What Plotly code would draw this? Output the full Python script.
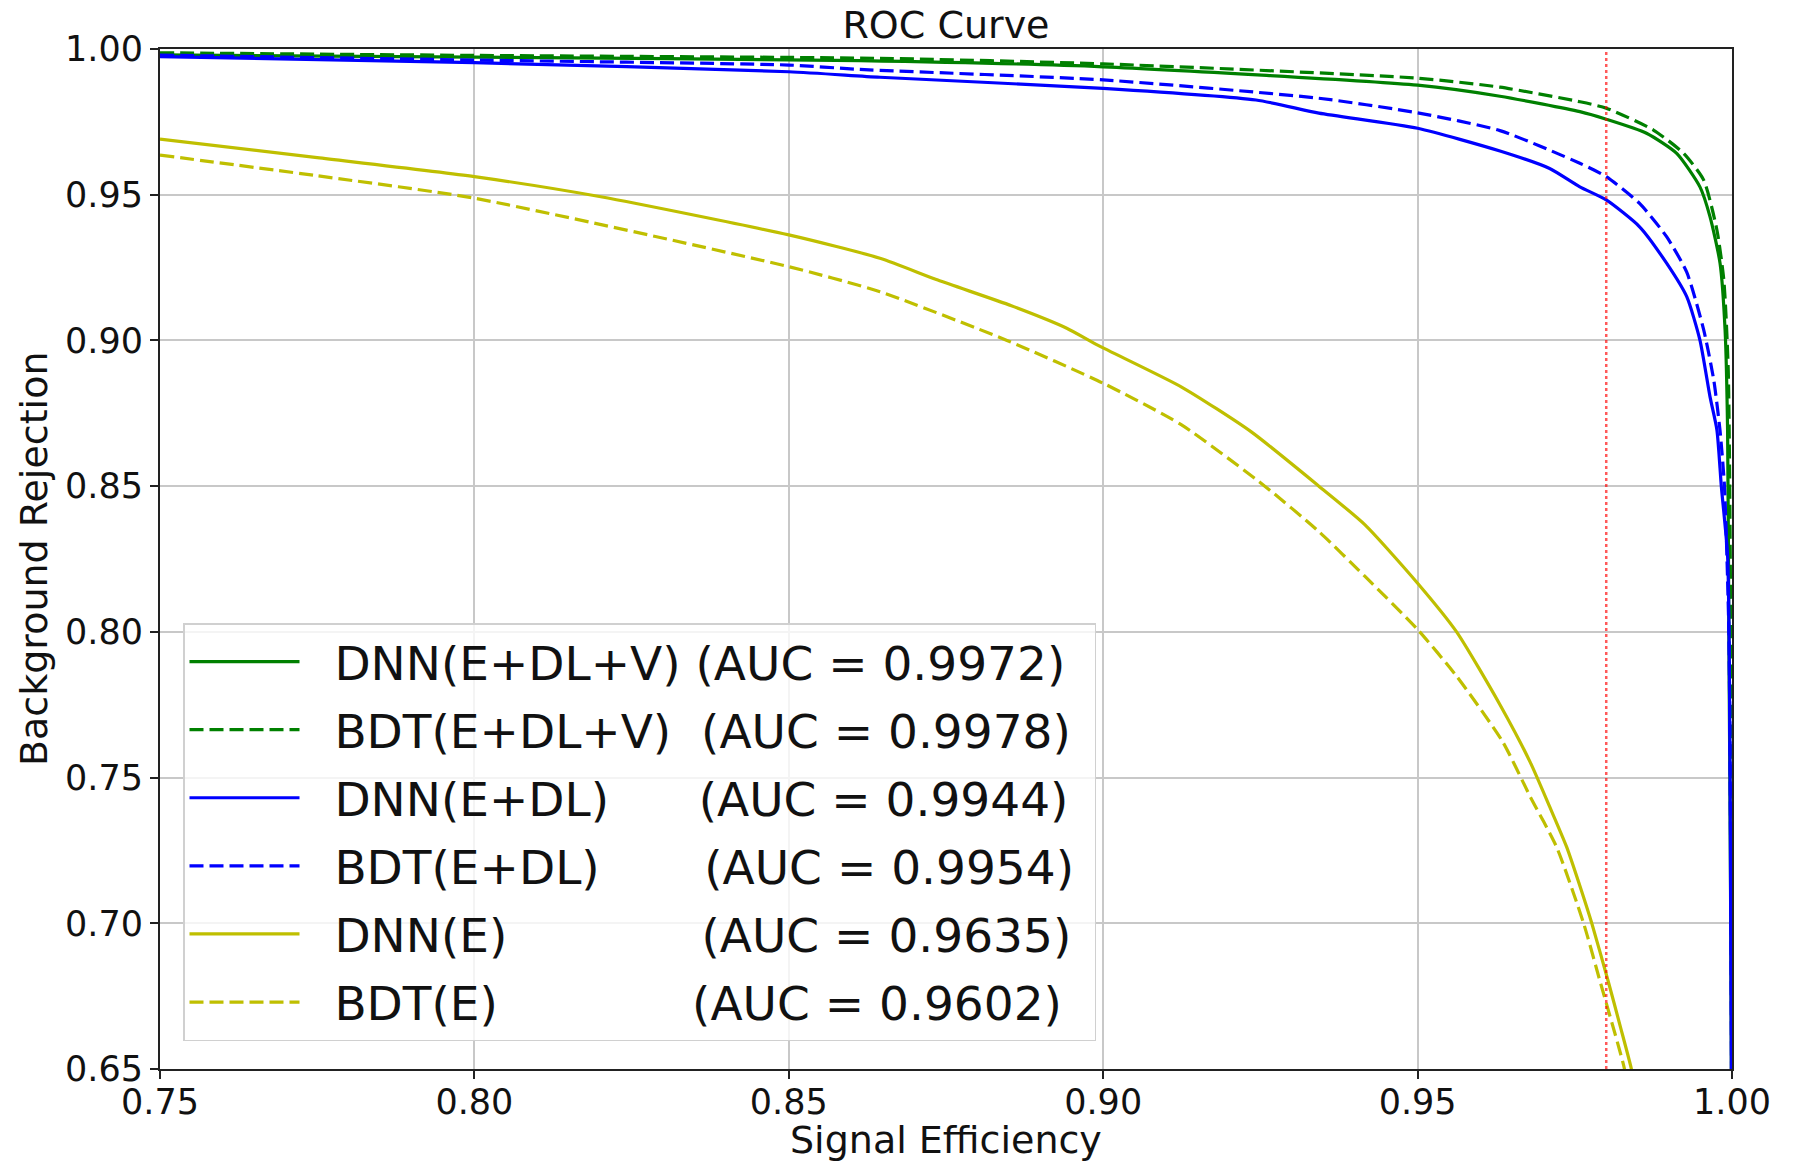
import plotly.graph_objects as go

# ---------------- data ----------------
dnn_edlv_x = [0.75, 0.80, 0.8613, 0.90, 0.95, 0.9631, 0.9758, 0.98, 0.9864, 0.9912,
              0.9949, 0.9965, 0.9981, 0.9989, 0.9993, 0.9995, 0.9998, 1.0]
dnn_edlv_y = [0.9980, 0.9972, 0.9960, 0.9939, 0.9876, 0.9838, 0.9785, 0.9759, 0.9711, 0.9642,
              0.9527, 0.9425, 0.9265, 0.9036, 0.8690, 0.80, 0.70, 0.60]

bdt_edlv_x = [0.75, 0.80, 0.8645, 0.90, 0.95, 0.9631, 0.9758, 0.98, 0.9875, 0.9923,
              0.9955, 0.9976, 0.9987, 0.9994, 0.9998, 1.0]
bdt_edlv_y = [0.9987, 0.9978, 0.9968, 0.9949, 0.9900, 0.9869, 0.9819, 0.9797, 0.9722, 0.9642,
              0.9550, 0.9379, 0.9207, 0.8900, 0.80, 0.60]

dnn_edl_x = [0.75, 0.80, 0.85, 0.8645, 0.90, 0.9243, 0.9343, 0.95, 0.9631, 0.9710, 0.9758,
             0.98, 0.9853, 0.9896, 0.9928, 0.9949, 0.9965, 0.9976, 0.9983, 0.9993, 0.9997, 1.0]
dnn_edl_y = [0.9974, 0.9953, 0.9922, 0.9903, 0.9865, 0.9825, 0.9780, 0.9728, 0.9650, 0.9590, 0.9527,
             0.9482, 0.9390, 0.9265, 0.9150, 0.9001, 0.8807, 0.8693, 0.85, 0.826, 0.75, 0.60]

bdt_edl_x = [0.75, 0.80, 0.85, 0.8613, 0.90, 0.9343, 0.95, 0.9631, 0.9758, 0.98, 0.9853,
             0.9896, 0.9928, 0.9955, 0.9971, 0.9981, 0.9988, 0.9995, 0.9998, 1.0]
bdt_edl_y = [0.9979, 0.9962, 0.9945, 0.9930, 0.9894, 0.9831, 0.9781, 0.9720, 0.9608, 0.9562, 0.9470,
             0.9356, 0.9234, 0.9036, 0.8864, 0.8690, 0.85, 0.80, 0.72, 0.60]

dnn_e_x = [0.75, 0.775, 0.80, 0.8201, 0.85, 0.8645, 0.8737, 0.8854, 0.8942, 0.8992, 0.9124,
           0.9235, 0.9343, 0.9416, 0.95, 0.9562, 0.9631, 0.9679, 0.9710, 0.9737, 0.9761,
           0.9777, 0.9803, 0.9822, 0.9840, 0.9848]
dnn_e_y = [0.9691, 0.9627, 0.9562, 0.9493, 0.9362, 0.9282, 0.9207, 0.9119, 0.9042, 0.8983, 0.8841,
           0.8687, 0.85, 0.8368, 0.8167, 0.80, 0.7750, 0.7553, 0.7400, 0.7262, 0.7109,
           0.70, 0.6802, 0.6649, 0.65, 0.64]

bdt_e_x = [0.75, 0.775, 0.80, 0.85, 0.8645, 0.8847, 0.90, 0.9124, 0.9257, 0.9343, 0.9416,
           0.95, 0.9562, 0.9635, 0.9679, 0.9721, 0.9764, 0.9790, 0.9829, 0.9836]
bdt_e_y = [0.9636, 0.9565, 0.9488, 0.9253, 0.9167, 0.90, 0.8853, 0.8711, 0.85, 0.8344, 0.8191,
           0.8008, 0.7848, 0.7624, 0.7435, 0.7262, 0.70, 0.6802, 0.65, 0.64]

series_names = ["DNN(E+DL+V)", "BDT(E+DL+V)", "DNN(E+DL)", "BDT(E+DL)", "DNN(E)", "BDT(E)"]
series_auc = [0.9972, 0.9978, 0.9944, 0.9954, 0.9635, 0.9602]
series_pad = [1, 2, 6, 7, 13, 13]   # spaces used in the legend labels for alignment
series_colors = ["#008000", "#008000", "#0000ff", "#0000ff", "#bfbf00", "#bfbf00"]
series_dash = ["solid", "14px,6px", "solid", "14px,6px", "solid", "14px,6px"]
series_x = [dnn_edlv_x, bdt_edlv_x, dnn_edl_x, bdt_edl_x, dnn_e_x, bdt_e_x]
series_y = [dnn_edlv_y, bdt_edlv_y, dnn_edl_y, bdt_edl_y, dnn_e_y, bdt_e_y]

SIG_EFF_CUT = 0.98
x_range = [0.75, 1.00]
y_range = [0.65, 1.00]

FONT = "DejaVu Sans"

# page body has an 8px margin -> figure is drawn 8px smaller and offset
W, H = 1785, 1154
ML, MT, MR, MB = 152, 41, 61, 93
PW, PH = W - ML - MR, H - MT - MB

# ---------------- figure ----------------
fig = go.Figure()

for i, (name, auc) in enumerate(zip(series_names, series_auc)):
    label = ("\u00a0\u00a0" + name + "\u00a0" * series_pad[i]
             + f"(AUC = {auc:.4f})" + "\u00a0")
    fig.add_trace(go.Scatter(
        x=series_x[i], y=series_y[i], mode="lines", name=label,
        legendgroup=f"g{i}",
        line=dict(color=series_colors[i], width=3.2, dash=series_dash[i],
                  shape="spline", smoothing=0.6),
    ))

fig.add_trace(go.Scatter(
    x=[SIG_EFF_CUT, SIG_EFF_CUT], y=y_range, mode="lines", showlegend=False,
    line=dict(color="rgba(255,0,0,0.65)", width=2.5, dash="3px,3px"),
))

axis_common = dict(
    showline=True, linecolor="#222222", linewidth=2, mirror=True,
    showgrid=True, gridcolor="#c8c8c8", gridwidth=1.5,
    ticks="outside", ticklen=8, tickwidth=2, tickcolor="#222222",
    tickfont=dict(family=FONT, size=35, color="#111111"),
    dtick=0.05, tickformat=".2f", zeroline=False,
)

fig.update_layout(
    width=W, height=H,
    margin=dict(l=ML, r=MR, t=MT, b=MB),
    paper_bgcolor="white", plot_bgcolor="white",
    font=dict(family=FONT, color="#111111"),
    title=dict(text="ROC Curve", x=(ML + PW / 2) / W, xanchor="center",
               y=1 - 17 / H, yanchor="middle",
               font=dict(family=FONT, size=38, color="#111111")),
    xaxis=dict(range=x_range, tick0=0.75, ticklabelstandoff=-7, **axis_common),
    yaxis=dict(range=y_range, tick0=0.65, **axis_common),
    legend=dict(
        x=23 / PW, y=28 / PH, xanchor="left", yanchor="bottom",
        bgcolor="rgba(255,255,255,0.8)", bordercolor="#d0d0d0", borderwidth=1.5,
        font=dict(family=FONT, size=47, color="#111111"),
        tracegroupgap=4, itemwidth=110,
    ),
    showlegend=True,
    annotations=[
        dict(text="Signal Efficiency", xref="paper", yref="paper", x=0.5,
             y=-71 / PH, xanchor="center", yanchor="middle",
             showarrow=False, font=dict(family=FONT, size=38, color="#111111")),
        dict(text="Background Rejection", xref="paper", yref="paper",
             x=-(ML - 26) / PW, y=0.5, xanchor="center", yanchor="middle",
             textangle=-90, showarrow=False,
             font=dict(family=FONT, size=38, color="#111111")),
    ],
)

fig.write_html("out.html")
